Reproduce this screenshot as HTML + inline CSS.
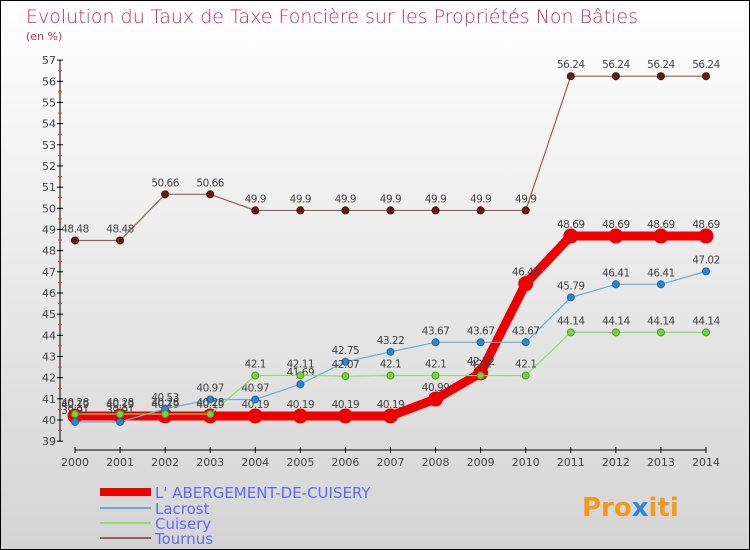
<!DOCTYPE html>
<html><head><meta charset="utf-8"><style>
html,body{margin:0;padding:0}
body{width:750px;height:550px;overflow:hidden;font-family:"DejaVu Sans","Liberation Sans",sans-serif}
</style></head><body>
<svg id="c" width="750" height="550" xmlns="http://www.w3.org/2000/svg" style="display:block">
<defs><linearGradient id="bg" x1="0" y1="0" x2="0" y2="1"><stop offset="0" stop-color="#ffffff"/><stop offset="1" stop-color="#d4d4d4"/></linearGradient></defs>
<rect x="0.5" y="0.5" width="749" height="549" fill="url(#bg)" stroke="#000"/>
<text x="26" y="23" font-size="19" fill="#c0305a" font-weight="200">Evolution du Taux de Taxe Foncière sur les Propriétés Non Bâties</text>
<text x="26" y="40" font-size="11" fill="#c0305a">(en %)</text>
<g id="axes"></g><g id="series"></g>
<g font-size="15" fill="#6666ee">
<rect x="100" y="488" width="51" height="8" fill="#e00"/>
<text x="155" y="498">L' ABERGEMENT-DE-CUISERY</text>
<rect x="100" y="507" width="51" height="2" fill="#6aaad8"/>
<text x="155" y="514">Lacrost</text>
<rect x="100" y="522" width="51" height="2" fill="#8fdc6a"/>
<text x="155" y="529">Cuisery</text>
<rect x="100" y="537" width="51" height="2" fill="#906060"/>
<text x="155" y="544">Tournus</text>
</g>
<text x="582" y="516" font-size="26" font-weight="bold" fill="#f39a1e">Pro<tspan fill="#2a8ad8">x</tspan>iti</text>
</svg>
<script>
const years=[2000,2001,2002,2003,2004,2005,2006,2007,2008,2009,2010,2011,2012,2013,2014];
const yTicks=[39,40,41,42,43,44,45,46,47,48,49,50,51,52,53,54,55,56,57];
const abergement=[40.19,40.19,40.19,40.19,40.19,40.19,40.19,40.19,40.99,42.22,46.44,48.69,48.69,48.69,48.69];
const lacrost=[39.91,39.91,40.53,40.97,40.97,41.69,42.75,43.22,43.67,43.67,43.67,45.79,46.41,46.41,47.02];
const cuisery=[40.28,40.28,40.28,40.28,42.1,42.11,42.07,42.1,42.1,42.1,42.1,44.14,44.14,44.14,44.14];
const tournus=[48.48,48.48,50.66,50.66,49.9,49.9,49.9,49.9,49.9,49.9,49.9,56.24,56.24,56.24,56.24];
const NS="http://www.w3.org/2000/svg";
const X=i=>75+i*(706-75)/(years.length-1);
const Y=v=>420-(v-40)*21.17;
function mk(t,a,p){const e=document.createElementNS(NS,t);for(const k in a)e.setAttribute(k,a[k]);p.appendChild(e);return e;}
const ax=document.getElementById('axes');
let yl=mk('line',{x1:60,y1:Y(57),x2:60,y2:Y(39),stroke:'#000'},ax);


yTicks.forEach(v=>{
 mk('line',{x1:57,x2:63,y1:Y(v),y2:Y(v),stroke:'#000'},ax);
 if(v<57)mk('line',{x1:58,x2:62,y1:Y(v+0.5),y2:Y(v+0.5),stroke:'#e33'},ax);
 const t=mk('text',{x:56,y:Y(v)+4,'font-size':11,'text-anchor':'end',fill:'#444'},ax);t.textContent=v;
 
 
});
let xl=mk('line',{x1:X(0),x2:X(years.length-1),y1:450,y2:450,stroke:'#000'},ax);


years.forEach((y,i)=>{
 mk('line',{x1:X(i),x2:X(i),y1:447,y2:453,stroke:'#000'},ax);
 const t=mk('text',{x:X(i),y:466,'font-size':11,'text-anchor':'middle',fill:'#444'},ax);t.textContent=y;
 
 
});
const sg=document.getElementById('series');
function series(name,data,color,w,r,fillc,stroke){
 const g=mk('g',{},sg);
 
 
 const l=mk('polyline',{points:data.map((v,i)=>X(i)+','+Y(v)).join(' '),fill:'none',stroke:color,'stroke-width':w},g);
 
 
 data.forEach((v,i)=>{
  const c=mk('circle',{cx:X(i),cy:Y(v),r:r,fill:fillc,stroke:stroke,'stroke-width':1},g);
  
  
  const t=mk('text',{x:X(i),y:Y(v)-8,'font-size':10.5,'text-anchor':'middle',fill:'#444','letter-spacing':'-0.5'},g);t.textContent=v;
  
  
 });
}
series('tournus',tournus,'#906060',1.2,3.5,'#6a1a1a','#4a0a0a');
series('abergement',abergement,'#e00',9,7,'#e00','#e00');
series('lacrost',lacrost,'#6aaad8',1.2,3.5,'#2a88d0','#1a6aa8');
series('cuisery',cuisery,'#8fdc6a',1.2,3.5,'#7ad040','#4aa020');
</script>
</body></html>
